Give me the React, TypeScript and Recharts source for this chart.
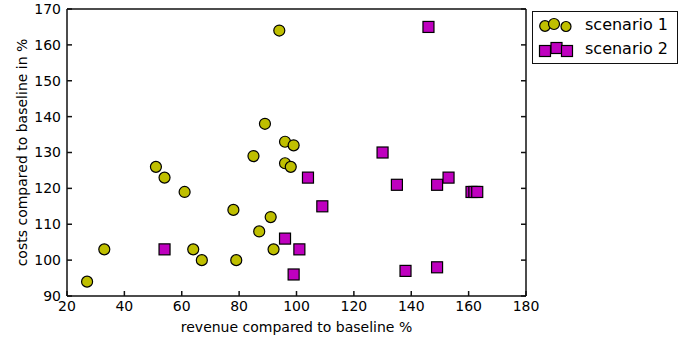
import { ScatterChart, Scatter, XAxis, YAxis, Legend } from "recharts"

const xTicks = [20, 40, 60, 80, 100, 120, 140, 160, 180]
const yTicks = [90, 100, 110, 120, 130, 140, 150, 160, 170]

const revenue1 = [27, 33, 51, 54, 61, 64, 67, 78, 79, 85, 87, 89, 91, 92, 94, 96, 96, 98, 99]
const costs1 = [94, 103, 126, 123, 119, 103, 100, 114, 100, 129, 108, 138, 112, 103, 164, 133, 127, 126, 132]

const revenue2 = [54, 96, 101, 99, 104, 109, 130, 135, 138, 146, 149, 149, 153, 161, 162, 163]
const costs2 = [103, 106, 103, 96, 123, 115, 130, 121, 97, 165, 121, 98, 123, 119, 119, 119]

const names = ["scenario 1", "scenario 2"]

const yellow = "#bfbf00"
const magenta = "#bf00bf"
const frame = "#111"

const s1 = revenue1.map((x, i) => ({ x, y: costs1[i] }))
const s2 = revenue2.map((x, i) => ({ x, y: costs2[i] }))

const Dot = (p: any) => (
    <circle cx={p.cx} cy={p.cy} r={5.5} fill={yellow} stroke="#000" strokeWidth={1.2} />
)

const Square = (p: any) => (
    <rect x={p.cx - 5.5} y={p.cy - 5.5} width={11} height={11} fill={magenta} stroke="#000" strokeWidth={1.2} />
)

const LegendBox = () => (
    <div
        style={{
            width: 144,
            height: 51,
            border: `1.5px solid ${frame}`,
            background: "#fff",
            position: "relative",
            fontSize: 16,
            color: "#000",
        }}
    >
        <svg width={50} height={51} style={{ position: "absolute", left: 0, top: 0 }}>
            <circle cx={12} cy={14} r={5.3} fill={yellow} stroke="#000" strokeWidth={1.2} />
            <circle cx={21} cy={12} r={5.5} fill={yellow} stroke="#000" strokeWidth={1.2} />
            <circle cx={33} cy={14.5} r={5} fill={yellow} stroke="#000" strokeWidth={1.2} />
            <rect x={6.5} y={33.5} width={11} height={11} fill={magenta} stroke="#000" strokeWidth={1.2} />
            <rect x={18} y={30.5} width={11} height={11} fill={magenta} stroke="#000" strokeWidth={1.2} />
            <rect x={28.5} y={33.5} width={11} height={11} fill={magenta} stroke="#000" strokeWidth={1.2} />
        </svg>
        <div style={{ position: "absolute", left: 52, top: 3 }}>{names[0]}</div>
        <div style={{ position: "absolute", left: 52, top: 27 }}>{names[1]}</div>
    </div>
)

export default function App() {
    const tick = { fill: "#000", fontSize: 14 }
    return (
        <div style={{ position: "absolute", left: 0, top: 0, fontFamily: "DejaVu Sans", background: "#fff" }}>
            <ScatterChart width={687} height={341} margin={{ top: 8, right: 160, bottom: 0, left: 0 }}>
                <XAxis
                    type="number"
                    dataKey="x"
                    domain={[20, 180]}
                    ticks={xTicks}
                    allowDataOverflow
                    height={45}
                    tick={tick}
                    tickSize={-5}
                    tickMargin={10}
                    stroke={frame}
                    strokeWidth={1.5}
                    label={{
                        value: "revenue compared to baseline %",
                        position: "insideBottom",
                        offset: 9,
                        style: { fill: "#000", fontSize: 14 },
                    }}
                />
                <XAxis
                    xAxisId="top"
                    orientation="top"
                    type="number"
                    domain={[20, 180]}
                    ticks={xTicks}
                    allowDataOverflow
                    height={1}
                    tickSize={-5}
                    tickFormatter={() => ""}
                    stroke={frame}
                    strokeWidth={1.5}
                />
                <YAxis
                    type="number"
                    dataKey="y"
                    domain={[90, 170]}
                    ticks={yTicks}
                    allowDataOverflow
                    width={67}
                    tick={tick}
                    tickSize={-5}
                    tickMargin={11}
                    stroke={frame}
                    strokeWidth={1.5}
                    label={{
                        value: "costs compared to baseline in %",
                        angle: -90,
                        position: "insideLeft",
                        offset: 22,
                        style: { fill: "#000", fontSize: 14, textAnchor: "middle" },
                    }}
                />
                <YAxis
                    yAxisId="right"
                    orientation="right"
                    type="number"
                    domain={[90, 170]}
                    ticks={yTicks}
                    allowDataOverflow
                    width={1}
                    tickSize={-5}
                    tickFormatter={() => ""}
                    stroke={frame}
                    strokeWidth={1.5}
                />
                <Scatter name={names[0]} data={s1} shape={Dot} isAnimationActive={false} />
                <Scatter name={names[1]} data={s2} shape={Square} isAnimationActive={false} />
                <Legend
                    layout="vertical"
                    align="center"
                    verticalAlign="middle"
                    content={() => <LegendBox />}
                    wrapperStyle={{ left: 532, top: 11, width: 147, height: 54 }}
                />
            </ScatterChart>
        </div>
    )
}
